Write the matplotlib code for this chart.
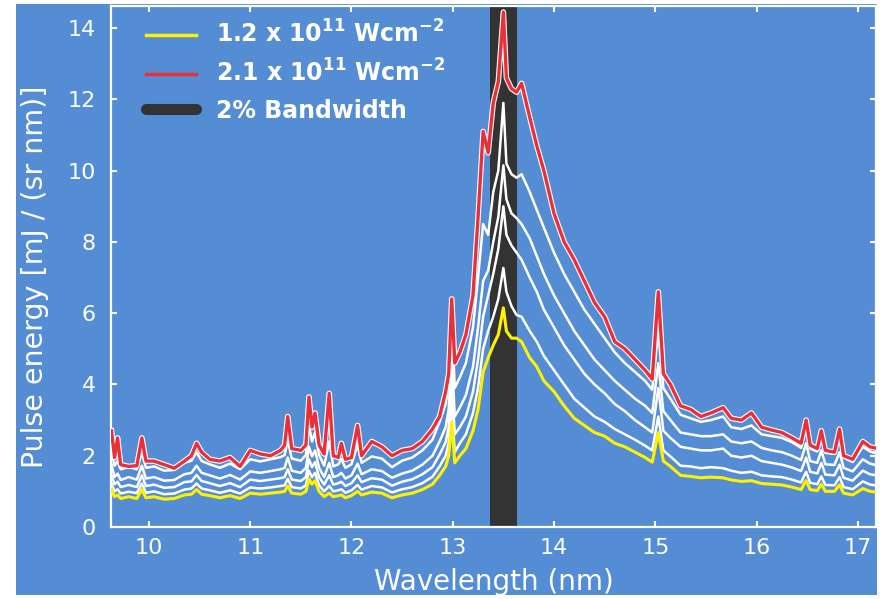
import numpy as np
import matplotlib
matplotlib.use('Agg')
import matplotlib.pyplot as plt
import matplotlib.patheffects as pe
from matplotlib.lines import Line2D
from matplotlib.patches import Rectangle

# wavelength grid (nm) shared by all spectra
wavelength = [
    9.63, 9.66, 9.69, 9.72, 9.80, 9.88, 9.93, 9.97, 10.05, 10.15,
    10.25, 10.35, 10.42, 10.47, 10.52, 10.60, 10.70, 10.80, 10.90, 11.00,
    11.10, 11.20, 11.30, 11.34, 11.37, 11.41, 11.50, 11.55, 11.58, 11.61,
    11.64, 11.68, 11.73, 11.78, 11.82, 11.87, 11.90, 11.94, 12.00, 12.06,
    12.10, 12.20, 12.30, 12.40, 12.50, 12.60, 12.70, 12.80, 12.87, 12.93,
    12.96, 12.99, 13.02, 13.07, 13.13, 13.20, 13.25, 13.30, 13.35, 13.40,
    13.45, 13.50, 13.53, 13.58, 13.63, 13.68, 13.76, 13.83, 13.90, 14.00,
    14.10, 14.20, 14.30, 14.40, 14.50, 14.60, 14.70, 14.80, 14.90, 14.97,
    15.03, 15.08, 15.15, 15.25, 15.35, 15.45, 15.55, 15.67, 15.75, 15.85,
    15.95, 16.05, 16.15, 16.25, 16.35, 16.44, 16.49, 16.53, 16.60, 16.64,
    16.68, 16.77, 16.82, 16.86, 16.95, 17.05, 17.12, 17.20,
]

# 1.2e11 W/cm2 (yellow)
e_low = [
    1.05, 0.85, 0.90, 0.80, 0.85, 0.80, 1.05, 0.82, 0.85, 0.78,
    0.80, 0.90, 0.92, 1.05, 0.92, 0.88, 0.82, 0.88, 0.80, 0.95,
    0.92, 0.95, 0.98, 1.00, 1.15, 0.95, 0.92, 1.00, 1.35, 1.20,
    1.30, 1.00, 0.85, 0.95, 0.85, 0.88, 0.90, 0.82, 0.88, 1.00,
    0.90, 0.98, 0.95, 0.82, 0.90, 0.95, 1.05, 1.20, 1.45, 1.70,
    2.00, 2.95, 1.80, 2.00, 2.20, 2.70, 3.30, 4.35, 4.75, 5.10,
    5.40, 6.15, 5.50, 5.30, 5.30, 5.20, 4.75, 4.50, 4.10, 3.80,
    3.40, 3.05, 2.85, 2.65, 2.55, 2.35, 2.25, 2.10, 1.95, 1.82,
    2.65, 1.85, 1.70, 1.45, 1.42, 1.38, 1.40, 1.38, 1.32, 1.28,
    1.30, 1.22, 1.20, 1.18, 1.12, 1.05, 1.30, 1.05, 1.02, 1.20,
    1.00, 1.00, 1.18, 0.95, 0.90, 1.08, 1.00, 0.98,
]

# 2.1e11 W/cm2 (red)
e_high = [
    2.70, 1.95, 2.50, 1.75, 1.70, 1.72, 2.50, 1.85, 1.85, 1.75,
    1.65, 1.85, 2.00, 2.35, 2.10, 1.90, 1.85, 1.95, 1.70, 2.15,
    2.05, 2.00, 2.15, 2.30, 3.10, 2.20, 2.15, 2.30, 3.65, 2.80,
    3.20, 2.30, 2.05, 3.75, 2.00, 1.95, 2.35, 1.90, 1.95, 2.85,
    2.00, 2.40, 2.25, 2.00, 2.15, 2.20, 2.40, 2.75, 3.10, 3.80,
    4.30, 6.40, 4.60, 4.90, 5.40, 6.50, 8.70, 11.10, 10.50, 11.90,
    12.50, 14.45, 12.60, 12.30, 12.20, 12.45, 11.50, 10.70, 10.00, 8.80,
    8.00, 7.50, 6.90, 6.30, 5.90, 5.20, 5.00, 4.70, 4.40, 4.15,
    6.60, 4.30, 4.00, 3.40, 3.30, 3.10, 3.20, 3.35, 3.05, 3.00,
    3.20, 2.80, 2.72, 2.65, 2.50, 2.35, 3.00, 2.30, 2.20, 2.70,
    2.15, 2.10, 2.75, 2.00, 1.90, 2.40, 2.25, 2.20,
]

# intermediate intensities (white)
e_mid1 = [
    2.10, 1.72, 1.85, 1.62, 1.68, 1.62, 2.10, 1.66, 1.70, 1.58,
    1.60, 1.80, 1.86, 2.10, 1.85, 1.76, 1.66, 1.78, 1.62, 1.90,
    1.84, 1.90, 1.96, 2.02, 2.45, 1.92, 1.86, 2.02, 2.85, 2.40,
    2.65, 2.02, 1.72, 2.40, 1.70, 1.76, 1.90, 1.66, 1.76, 2.30,
    1.80, 1.98, 1.92, 1.68, 1.86, 1.95, 2.15, 2.45, 2.95, 3.45,
    4.00, 5.90, 3.90, 4.20, 4.60, 5.60, 7.00, 8.50, 8.20, 9.40,
    10.00, 11.90, 10.20, 9.90, 9.80, 9.90, 9.40, 8.90, 8.40, 7.70,
    7.10, 6.60, 6.10, 5.70, 5.30, 4.90, 4.60, 4.35, 4.10, 3.85,
    5.50, 3.90, 3.60, 3.15, 3.05, 2.95, 3.00, 3.10, 2.80, 2.75,
    2.85, 2.60, 2.55, 2.50, 2.38, 2.22, 2.80, 2.20, 2.12, 2.55,
    2.08, 2.05, 2.55, 1.95, 1.82, 2.25, 2.12, 2.05,
]
e_mid2 = [
    1.75, 1.40, 1.50, 1.32, 1.40, 1.33, 1.72, 1.36, 1.40, 1.30,
    1.32, 1.48, 1.52, 1.72, 1.52, 1.45, 1.36, 1.46, 1.33, 1.56,
    1.52, 1.57, 1.62, 1.66, 1.95, 1.58, 1.52, 1.66, 2.25, 1.98,
    2.15, 1.66, 1.40, 1.80, 1.40, 1.45, 1.52, 1.36, 1.45, 1.78,
    1.48, 1.62, 1.57, 1.38, 1.50, 1.58, 1.75, 2.00, 2.40, 2.80,
    3.30, 4.90, 3.10, 3.35, 3.70, 4.50, 5.60, 6.90, 7.20, 8.00,
    8.70, 10.15, 9.20, 8.80, 8.67, 8.50, 8.10, 7.60, 7.10, 6.50,
    6.00, 5.50, 5.10, 4.70, 4.40, 4.10, 3.85, 3.60, 3.40, 3.20,
    4.60, 3.25, 3.00, 2.65, 2.60, 2.55, 2.55, 2.60, 2.40, 2.35,
    2.40, 2.22, 2.15, 2.10, 2.00, 1.88, 2.35, 1.85, 1.80, 2.15,
    1.76, 1.74, 2.10, 1.66, 1.56, 1.90, 1.78, 1.72,
]
e_mid3 = [
    1.45, 1.20, 1.27, 1.12, 1.18, 1.12, 1.45, 1.15, 1.19, 1.10,
    1.12, 1.26, 1.28, 1.46, 1.29, 1.23, 1.15, 1.23, 1.12, 1.33,
    1.29, 1.33, 1.37, 1.40, 1.62, 1.33, 1.29, 1.40, 1.90, 1.68,
    1.82, 1.40, 1.19, 1.45, 1.19, 1.23, 1.27, 1.15, 1.23, 1.45,
    1.26, 1.37, 1.33, 1.16, 1.27, 1.34, 1.48, 1.68, 2.03, 2.38,
    2.80, 4.15, 2.60, 2.80, 3.10, 3.80, 4.70, 5.90, 6.50, 7.10,
    7.80, 9.00, 8.20, 7.90, 7.70, 7.50, 7.00, 6.60, 6.10, 5.60,
    5.10, 4.70, 4.30, 4.00, 3.75, 3.45, 3.25, 3.00, 2.80, 2.65,
    3.90, 2.70, 2.50, 2.25, 2.20, 2.15, 2.15, 2.20, 2.00, 1.95,
    2.00, 1.85, 1.80, 1.75, 1.67, 1.57, 1.95, 1.55, 1.50, 1.80,
    1.47, 1.45, 1.75, 1.38, 1.30, 1.58, 1.48, 1.44,
]
e_mid4 = [
    1.22, 1.00, 1.06, 0.94, 0.99, 0.95, 1.22, 0.96, 1.00, 0.92,
    0.94, 1.05, 1.08, 1.22, 1.08, 1.03, 0.96, 1.03, 0.94, 1.11,
    1.08, 1.11, 1.15, 1.17, 1.35, 1.12, 1.08, 1.17, 1.58, 1.40,
    1.52, 1.17, 1.00, 1.15, 1.00, 1.03, 1.06, 0.96, 1.03, 1.18,
    1.05, 1.15, 1.11, 0.97, 1.06, 1.12, 1.23, 1.41, 1.70, 2.00,
    2.35, 3.45, 2.10, 2.35, 2.60, 3.20, 3.90, 5.00, 5.50, 5.90,
    6.40, 7.27, 6.60, 6.20, 5.95, 5.90, 5.50, 5.20, 4.80, 4.40,
    4.00, 3.60, 3.35, 3.10, 2.95, 2.75, 2.60, 2.45, 2.28, 2.15,
    3.10, 2.15, 1.98, 1.72, 1.70, 1.65, 1.68, 1.65, 1.58, 1.52,
    1.55, 1.45, 1.42, 1.40, 1.33, 1.25, 1.55, 1.24, 1.20, 1.42,
    1.18, 1.17, 1.40, 1.12, 1.06, 1.28, 1.19, 1.16,
]

band = (13.365, 13.635)  # 2% bandwidth around 13.5 nm
labels = ['1.2 x 10$^{11}$ Wcm$^{-2}$', '2.1 x 10$^{11}$ Wcm$^{-2}$', '2% Bandwidth']

bg = '#558dd5'
red = '#ea2f38'
yellow = '#fff200'

plt.rcParams['font.family'] = 'DejaVu Sans'
plt.rcParams['mathtext.default'] = 'bf'

fig = plt.figure(figsize=(8.8, 5.99), dpi=100, facecolor='white')
fig.patches.append(Rectangle((16/880, 4/599), 861/880, 591/599, transform=fig.transFigure,
                             facecolor=bg, edgecolor='none', zorder=-10))
ax = fig.add_axes([111/880, 1 - 527/599, 765/880, 521/599])
ax.set_facecolor(bg)

ax.axvspan(*band, color='#333333', lw=0, zorder=1)
for s in [e_mid1, e_mid2, e_mid3, e_mid4]:
    ax.plot(wavelength, s, color='white', lw=1.8, zorder=2)
ax.plot(wavelength, e_low, color=yellow, lw=2.2, zorder=3)
ax.plot(wavelength, e_high, color=red, lw=2.4, zorder=4,
        path_effects=[pe.Stroke(linewidth=4.0, foreground='white'), pe.Normal()])

ax.set_xlim(9.625, 17.18)
ax.set_ylim(0, 14.62)
ax.set_xticks(np.arange(10, 18, 1))
ax.set_yticks(np.arange(0, 15, 2))

for sp in ax.spines.values():
    sp.set_color('white')
    sp.set_linewidth(1.6)
ax.tick_params(direction='in', top=True, right=True, colors='white', length=4, width=1.5,
               labelsize=16)
ax.tick_params(axis='y', pad=11)
ax.tick_params(axis='x', pad=8)

ax.set_xlabel('Wavelength (nm)', color='white', fontsize=20, labelpad=7)
ax.set_ylabel('Pulse energy [mJ / (sr nm)]', color='white', fontsize=20.5)
ax.yaxis.set_label_coords(-0.081, 0.48)

handles = [Line2D([], [], color=yellow, lw=2.5),
           Line2D([], [], color=red, lw=2.5),
           Line2D([], [], color='#333333', lw=8, solid_capstyle='round')]
leg = ax.legend(handles, labels, loc='upper left', bbox_to_anchor=(0.046, 0.972),
                frameon=False, handlelength=2.1, handletextpad=0.85, labelspacing=0.5,
                borderaxespad=0, borderpad=0,
                prop={'weight': 'bold', 'size': 17})
for t in leg.get_texts():
    t.set_color('white')

fig.savefig('out.png', dpi=100, facecolor=fig.get_facecolor())
